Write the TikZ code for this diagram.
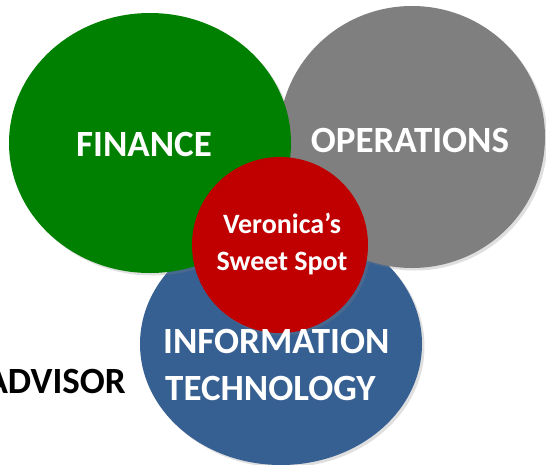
\documentclass[tikz,border=0pt]{standalone}
\usepackage{fontspec}
\setmainfont{Carlito}
\usetikzlibrary{shapes.geometric,shadows}

\definecolor{finGreen}{RGB}{0,128,0}
\definecolor{opsGray}{RGB}{127,127,127}
\definecolor{itBlue}{RGB}{55,96,146}
\definecolor{spotRed}{RGB}{192,0,0}

\tikzset{
	blob/.style={ellipse, draw=none, inner sep=0pt,
		drop shadow={shadow xshift=2.5pt, shadow yshift=-2.5pt, opacity=.25}},
	bigtxt/.style={text=white, font=\bfseries\fontsize{37}{44}\selectfont, inner sep=0pt},
	smalltxt/.style={text=white, font=\bfseries\fontsize{28}{33}\selectfont, inner sep=0pt}
}

\begin{document}
\begin{tikzpicture}[x=1pt, y=-1pt]
	\useasboundingbox (0,0) rectangle (546,464);
	
	\node[blob, fill=itBlue, minimum width=282pt, minimum height=242pt] (it) at (281,344) {};
	\node[blob, fill=opsGray, minimum width=266pt, minimum height=262pt] (ops) at (412,137) {};
	\node[blob, fill=finGreen, minimum width=282pt, minimum height=260pt] (fin) at (150,143) {};
	\node[blob, fill=spotRed, minimum width=176pt, minimum height=176pt] (spot) at (280,245) {};
	
	\node[bigtxt, anchor=base] (finlbl) at (144,156) {FINANCE};
	\node[bigtxt, anchor=base] (opslbl) at (410,152) {OPERATIONS};
	\node[bigtxt, anchor=base west] (itlblA) at (163,353) {INFORMATION};
	\node[bigtxt, anchor=base west] (itlblB) at (165,400) {TECHNOLOGY};
	\node[smalltxt, anchor=base] (spotlblA) at (282,233) {Veronica’s};
	\node[smalltxt, anchor=base] (spotlblB) at (282,270) {Sweet Spot};
	
	\node[bigtxt, text=black, anchor=base east] (advisor) at (126,393) {ADVISOR};
\end{tikzpicture}
\end{document}
